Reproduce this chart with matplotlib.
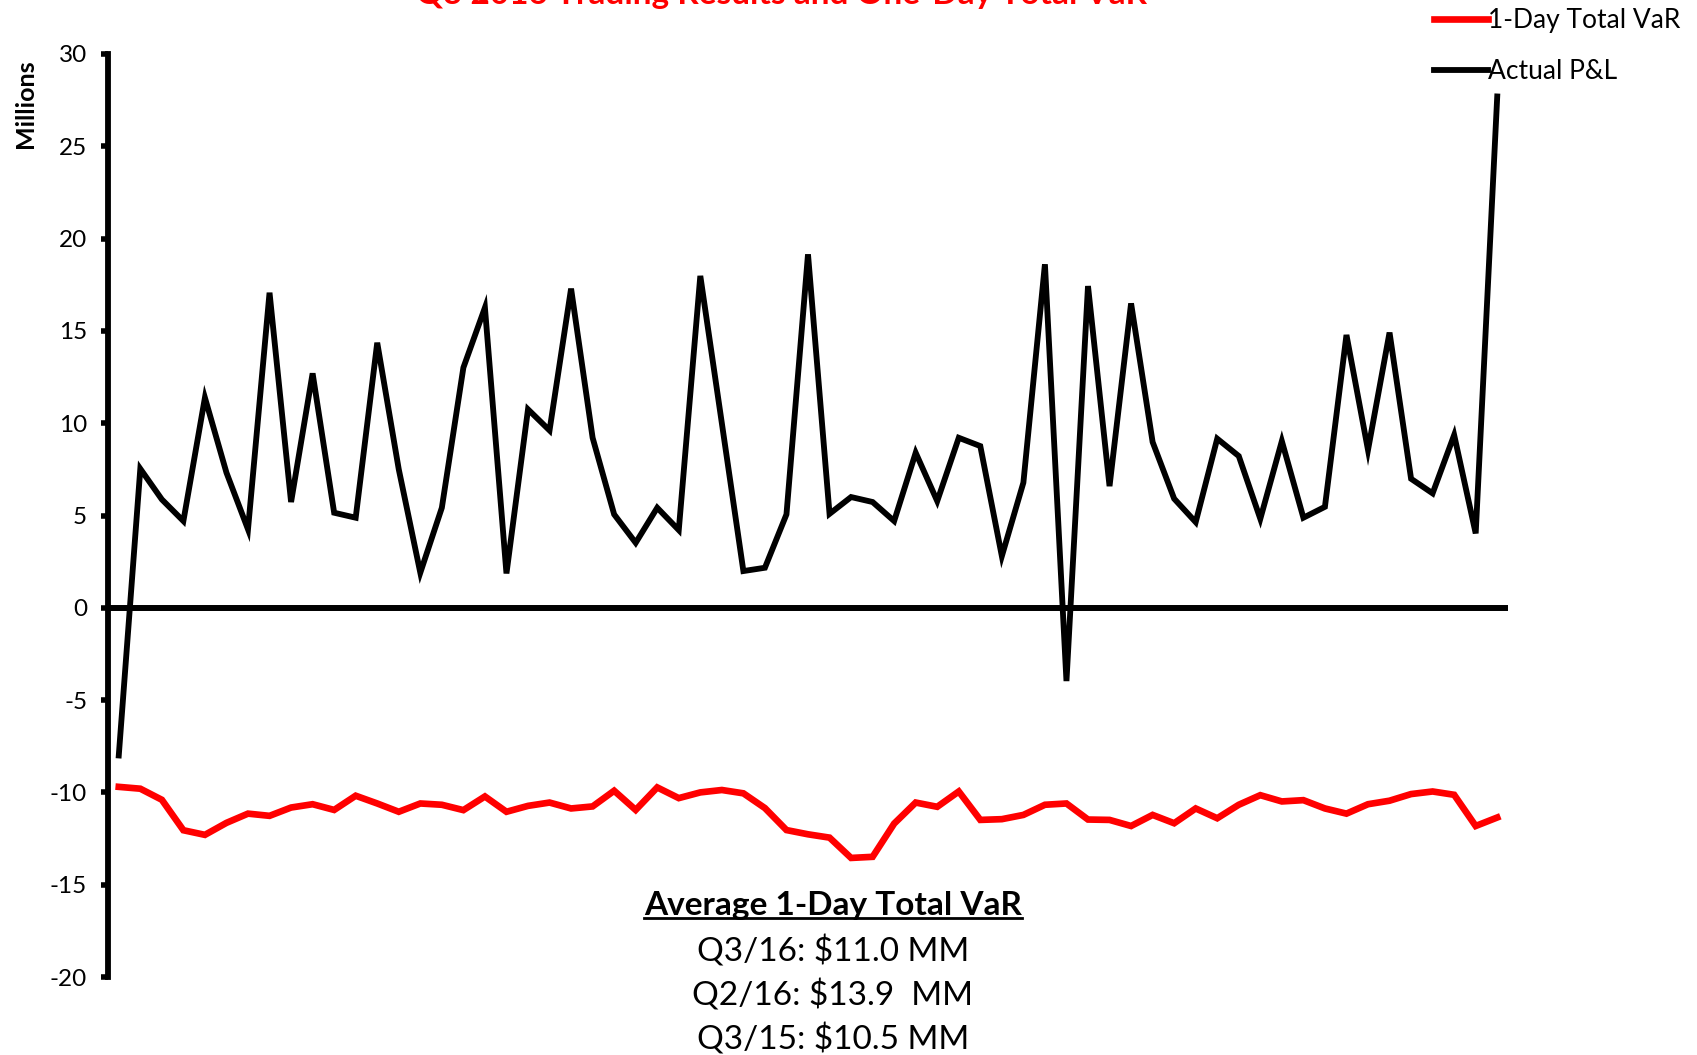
import numpy as np
import matplotlib.pyplot as plt
from matplotlib.lines import Line2D

plt.rcParams['font.family'] = ['Lato', 'DejaVu Sans']
plt.rcParams['axes.unicode_minus'] = False

# daily trading results and 1-day total VaR, $ millions
actual_pnl = [-8.0, 7.53, 5.87, 4.70, 11.38, 7.32, 4.25, 17.07, 5.73, 12.70,
              5.15, 4.88, 14.36, 7.50, 1.90, 5.42, 13.01, 16.26, 1.86, 10.75,
              9.61, 17.29, 9.21, 5.06, 3.52, 5.42, 4.21, 17.98, 10.0, 1.99,
              2.17, 5.06, 19.15, 5.09, 6.0, 5.73, 4.70, 8.40, 5.78, 9.21,
              8.76, 2.80, 6.78, 18.61, -3.97, 17.43, 6.59, 16.49, 8.98, 5.91,
              4.64, 9.16, 8.22, 4.82, 9.03, 4.88, 5.47, 14.78, 8.55, 14.91,
              6.99, 6.20, 9.36, 4.03, 27.7]
total_var = [-9.7, -9.8, -10.4, -12.05, -12.3, -11.65, -11.15, -11.27, -10.82, -10.64,
             -10.95, -10.18, -10.6, -11.05, -10.6, -10.67, -10.96, -10.22, -11.05, -10.73,
             -10.55, -10.87, -10.76, -9.91, -10.95, -9.73, -10.31, -10.0, -9.87, -10.05,
             -10.85, -12.04, -12.27, -12.45, -13.55, -13.49, -11.69, -10.55, -10.78, -9.95,
             -11.49, -11.45, -11.22, -10.67, -10.6, -11.47, -11.49, -11.82, -11.22, -11.67,
             -10.87, -11.4, -10.67, -10.15, -10.49, -10.42, -10.87, -11.15, -10.64, -10.45,
             -10.09, -9.95, -10.13, -11.82, -11.36]
y_ticks = [30, 25, 20, 15, 10, 5, 0, -5, -10, -15, -20]
avg_title = "Average 1-Day Total VaR"
avg_lines = ["Q3/16: $11.0 MM", "Q2/16: $13.9  MM", "Q3/15: $10.5 MM"]

days = np.arange(len(actual_pnl))

fig = plt.figure(figsize=(16.97, 10.55), dpi=100)
ax = fig.add_axes([108 / 1697, 1 - 977 / 1055, 1400 / 1697, 923 / 1055])

ax.axhline(0, color='black', lw=4.3, zorder=1)
l_var, = ax.plot(days, total_var, color='#ff0000', lw=4.8, solid_joinstyle='miter', zorder=3)
l_pnl, = ax.plot(days, actual_pnl, color='black', lw=4.2, solid_joinstyle='miter', zorder=2)

ax.set_xlim(-0.5, len(days) - 0.5)
ax.set_ylim(-20, 30)
ax.set_yticks(y_ticks)
ax.set_xticks([])
for side in ('top', 'right', 'bottom'):
    ax.spines[side].set_visible(False)
ax.spines['left'].set_linewidth(4.2)
ax.tick_params(axis='y', length=5, width=4, direction='out', labelsize=17.5, pad=10)

ax.set_ylabel('Millions', fontsize=18, fontweight='bold')
ax.yaxis.set_label_coords(-0.051, 0.946)

fig.text(781 / 1697, 1 - 4 / 1055, 'Q3 2016 Trading Results and One-Day Total VaR',
         color='#ff0000', fontsize=24, fontweight='bold', ha='center', va='baseline')

fig.legend([l_var, l_pnl], ['1-Day Total VaR', 'Actual P&L'],
           loc='upper left', bbox_to_anchor=(1434 / 1697, 1 - 8 / 1055), frameon=False,
           fontsize=19, handlelength=2.05, handletextpad=0.0, labelspacing=0.98,
           borderaxespad=0.0, borderpad=0.0)

# summary block below the VaR line
cx = 833 / 1697
head = fig.text(cx, 1 - 906 / 1055, avg_title, fontsize=24, fontweight='bold',
                ha='center', va='center')
for i, line in enumerate(avg_lines):
    fig.text(cx, 1 - (951 + 44.5 * i) / 1055, line, fontsize=24,
             ha='center', va='center')

fig.canvas.draw()
bb = head.get_window_extent().transformed(fig.transFigure.inverted())
fig.add_artist(Line2D([bb.x0, bb.x1], [bb.y0 + 0.002, bb.y0 + 0.002],
                      transform=fig.transFigure, color='black', lw=2))

fig.savefig('out.png', dpi=100)
